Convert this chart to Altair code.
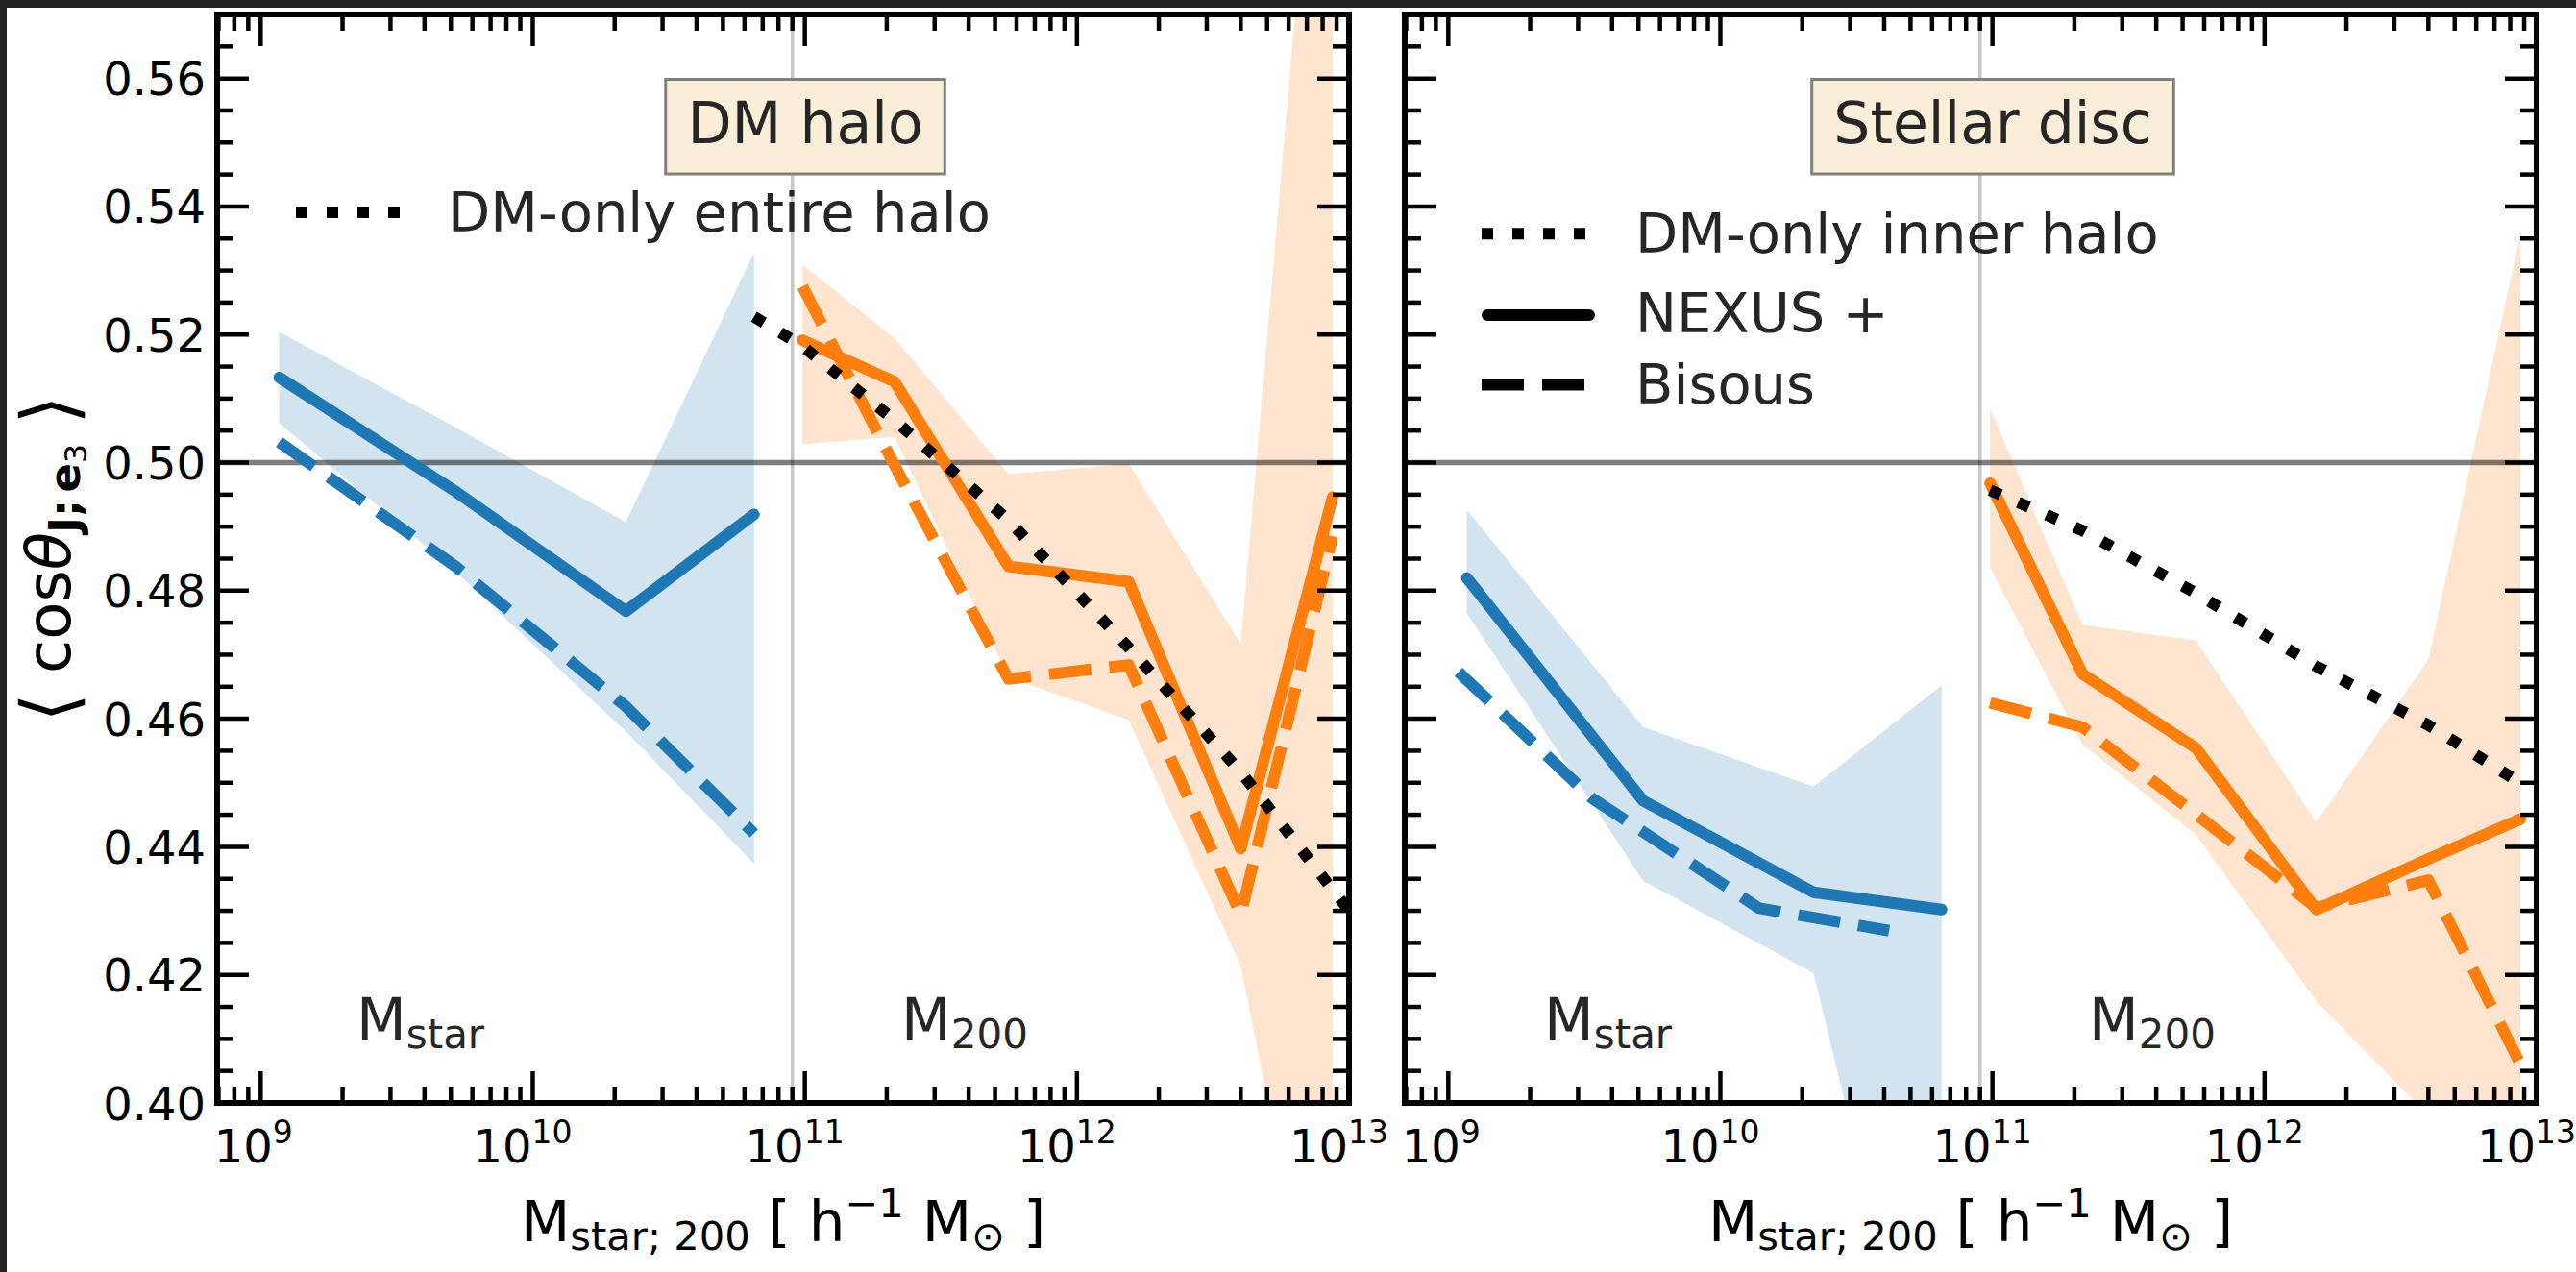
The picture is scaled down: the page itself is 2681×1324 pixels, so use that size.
import altair as alt
import pandas as pd

# ---------------------------------------------------------------- data
# bin centres, h^-1 Msun
mstar_bins = [1.17e9, 5.2e9, 2.2e10, 6.5e10]
mstar_bins_disc_bisous = [1.09e9, 3.37e9, 1.39e10, 4.17e10]
m200_bins = [9.8e10, 2.14e11, 5.6e11, 1.55e12, 4.0e12, 8.7e12]
dmonly_entire_bins = [6.5e10, 9.8e10, 2.14e11, 5.6e11, 1.55e12, 4.0e12, 8.7e12, 1.15e13]
dmonly_inner_bins = [9.8e10, 2.14e11, 5.6e11, 1.55e12, 4.0e12, 8.7e12]

# DM halo spin
halo_nexus_mstar = [0.5133, 0.4955, 0.4768, 0.4919]
halo_nexus_mstar_lo = [0.5062, 0.4830, 0.4580, 0.4374]
halo_nexus_mstar_hi = [0.5204, 0.5055, 0.4907, 0.5328]
halo_bisous_mstar = [0.5032, 0.4838, 0.4619, 0.4421]
halo_nexus_m200 = [0.5191, 0.5126, 0.4838, 0.4814, 0.4397, 0.4946]
halo_nexus_m200_lo = [0.5029, 0.5040, 0.4665, 0.4598, 0.4214, 0.3500]
halo_nexus_m200_hi = [0.5309, 0.5194, 0.4982, 0.4998, 0.4717, 0.6380]
halo_bisous_m200 = [0.5275, 0.4995, 0.4662, 0.4684, 0.4294, 0.4885]
halo_dmonly_entire = [0.5228, 0.5182, 0.5066, 0.4910, 0.4711, 0.4517, 0.4333, 0.4268]

# stellar disc spin
disc_nexus_mstar = [0.4820, 0.4472, 0.4329, 0.4302]
disc_nexus_mstar_lo = [0.4765, 0.4347, 0.4203, 0.3380]
disc_nexus_mstar_hi = [0.4926, 0.4587, 0.4494, 0.4652]
disc_bisous_mstar = [0.4673, 0.4476, 0.4304, 0.4269]
disc_nexus_m200 = [0.4968, 0.4670, 0.4554, 0.4302, 0.4381, 0.4443]
disc_nexus_m200_lo = [0.4836, 0.4560, 0.4419, 0.4159, 0.3980, 0.3600]
disc_nexus_m200_hi = [0.5085, 0.4747, 0.4722, 0.4438, 0.4692, 0.5356]
disc_bisous_m200 = [0.4625, 0.4587, 0.4451, 0.4305, 0.4348, 0.4061]
disc_dmonly_inner = [0.4957, 0.4894, 0.4796, 0.4682, 0.4590, 0.4500]

# axis ticks
y_major = [0.40, 0.42, 0.44, 0.46, 0.48, 0.50, 0.52, 0.54, 0.56]
y_labels = ["0.40", "0.42", "0.44", "0.46", "0.48", "0.50", "0.52", "0.54", "0.56"]
y_minor = [round(0.40 + 0.005 * i, 3) for i in range(1, 34) if i % 4]
x_major = [1e9, 1e10, 1e11, 1e12, 1e13]
x_exponents = ["9", "10", "11", "12", "13"]
x_minor = [k * 10.0 ** n for n in range(8, 13) for k in range(2, 10) if k * 10.0 ** n > 6.95e8]
split_mass = 9e10

# ---------------------------------------------------------------- style
FONT = "DejaVu Sans"
INK = "#262626"
BLUE, ORANGE = "#1f77b4", "#ff7f0e"
W, H = 1178, 1133
LW = 12
DASH = [44, 19]
DOT = [12, 20]
LEGEND_SIZE = 57.5
XS = alt.Scale(type="log", domain=[10 ** 8.84, 1e13])
YS = alt.Scale(domain=[0.40, 0.57])

ADV = {" ": .318, ";": .337, "[": .390, "]": .390, "-": .361, "+": .838,
       "\u2212": .838, "\u2299": .838, "\u27e8": .390, "\u27e9": .390, "\u03b8": .602,
       "A": .684, "B": .686, "D": .770, "E": .632, "H": .752, "J": .295, "M": .863,
       "N": .748, "S": .635, "U": .732, "X": .685,
       "a": .613, "c": .550, "d": .635, "e": .615, "h": .634, "i": .278, "l": .278,
       "n": .634, "o": .612, "r": .411, "s": .521, "t": .392, "u": .634, "y": .592}
ADV_BOLD = {"J": .372, ";": .400, "e": .678, " ": .348}


def adv(s, size, bold=False):
    tot = 0.0
    for c in s:
        if c.isdigit():
            tot += .636
        elif bold and c in ADV_BOLD:
            tot += ADV_BOLD[c]
        else:
            tot += ADV.get(c, .6)
    return tot * size


def one():
    return pd.DataFrame({"k": [0]})


def text_mark(s, x, y, size, color=INK, align="left", angle=0, weight="normal", style="normal"):
    props = dict(font=FONT, fontSize=size, color=color, align=align,
                 baseline="alphabetic", fontWeight=weight, fontStyle=style)
    if angle:
        props["angle"] = angle
    return alt.Chart(one()).mark_text(**props).encode(
        x=alt.value(x), y=alt.value(y), text=alt.value(s))


def rich(runs, x, y, angle=0, color="black"):
    """Lay out a mathtext-like string (runs of text with size/shift) centred on (x, y)."""
    def width(item):
        if item[0] == "gap":
            return item[1]
        t, size, shift, bold, italic = item
        return adv(t, size, bold)

    total = sum(width(i) for i in runs)
    pos = x - total / 2 if angle == 0 else y + total / 2
    out = []
    for item in runs:
        a = width(item)
        if item[0] != "gap":
            t, size, shift, bold, italic = item
            if angle == 0:
                px, py = pos, y + shift
            else:
                px, py = x + shift, pos
            out.append(text_mark(t, px, py, size, color, "left", angle,
                                 "bold" if bold else "normal",
                                 "italic" if italic else "normal"))
        pos = pos + a if angle == 0 else pos - a
    return out


def band(x, lo, hi, color):
    df = pd.DataFrame({"x": x, "lo": lo, "hi": hi})
    return alt.Chart(df).mark_area(color=color, opacity=0.2, clip=True).encode(
        x=alt.X("x:Q", scale=XS, axis=None),
        y=alt.Y("lo:Q", scale=YS, axis=None),
        y2="hi:Q")


def curve(x, y, color, dash=None):
    props = dict(color=color, strokeWidth=LW, clip=True, strokeJoin="round",
                 strokeCap="butt" if dash else "round")
    if dash:
        props["strokeDash"] = dash
    return alt.Chart(pd.DataFrame({"x": x, "y": y})).mark_line(**props).encode(
        x=alt.X("x:Q", scale=XS, axis=None),
        y=alt.Y("y:Q", scale=YS, axis=None))


def reference_lines():
    h = alt.Chart(pd.DataFrame({"y": [0.5]})).mark_rule(
        color="black", opacity=0.5, strokeWidth=5.5).encode(
        y=alt.Y("y:Q", scale=YS, axis=None))
    v = alt.Chart(pd.DataFrame({"x": [split_mass]})).mark_rule(
        color="#c8c8c8", strokeWidth=3.5).encode(
        x=alt.X("x:Q", scale=XS, axis=None))
    return [v, h]


def ticks():
    out = []
    for vals, ln in ((y_major, 33), (y_minor, 17)):
        d = pd.DataFrame({"v": vals})
        for x0, x1 in ((0, ln), (W, W - ln)):
            out.append(alt.Chart(d).mark_rule(color="black", strokeWidth=4.5).encode(
                y=alt.Y("v:Q", scale=YS, axis=None), x=alt.value(x0), x2=alt.value(x1)))
    for vals, ln in ((x_major, 33), (x_minor, 17)):
        d = pd.DataFrame({"v": vals})
        for y0, y1 in ((H, H - ln), (0, ln)):
            out.append(alt.Chart(d).mark_rule(color="black", strokeWidth=4.5).encode(
                x=alt.X("v:Q", scale=XS, axis=None), y=alt.value(y0), y2=alt.value(y1)))
    frame = alt.Chart(one()).mark_rect(fill="white", fillOpacity=0, stroke="black",
                                       strokeWidth=6).encode(
        x=alt.value(0), x2=alt.value(W), y=alt.value(0), y2=alt.value(H))
    out.append(frame)
    return out


def x_tick_labels():
    df = pd.DataFrame({"v": x_major, "e": x_exponents})
    out = []
    for ndig, dx in ((1, 12.5), (2, -1)):
        d = df[df["e"].str.len() == ndig]
        out.append(alt.Chart(d).mark_text(font=FONT, fontSize=48, color="black", align="right",
                                          baseline="alphabetic", dx=dx).encode(
            x=alt.X("v:Q", scale=XS, axis=None), y=alt.value(1195), text=alt.value("10")))
        out.append(alt.Chart(d).mark_text(font=FONT, fontSize=33, color="black", align="left",
                                          baseline="alphabetic", dx=dx).encode(
            x=alt.X("v:Q", scale=XS, axis=None), y=alt.value(1175), text="e:N"))
    return out


def y_tick_labels():
    df = pd.DataFrame({"v": y_major, "lab": y_labels})
    return [alt.Chart(df).mark_text(font=FONT, fontSize=48, color="black", align="right",
                                    baseline="alphabetic", dy=17.5).encode(
        y=alt.Y("v:Q", scale=YS, axis=None), x=alt.value(-12), text="lab:N")]


def x_title():
    F = 59.5
    s = 0.7 * F
    runs = [("M", F, 0, False, False), ("star; 200", s, 0.16 * F, False, False),
            ("gap", 0.318 * F), ("[", F, 0, False, False), ("gap", 0.318 * F),
            ("h", F, 0, False, False), ("\u22121", s, -0.42 * F, False, False),
            ("gap", 0.318 * F), ("M", F, 0, False, False), ("\u2299", s, 0.16 * F, False, False),
            ("gap", 0.318 * F), ("]", F, 0, False, False)]
    return rich(runs, W / 2, 1276.7)


def y_title():
    F = 64
    B = 78
    s = 0.7 * F
    ss = 0.7 * s
    runs = [("\u27e8", B, 5, False, False), ("gap", 0.318 * F), ("cos", F, 0, False, False),
            ("\u03b8", F, 0, False, True), ("J;", s, 0.16 * F, True, False),
            ("gap", 0.17 * s), ("e", s, 0.16 * F, True, False), ("3", ss, 0.27 * F, False, False),
            ("gap", 0.318 * F), ("\u27e9", B, 5, False, False)]
    return rich(runs, -153, H / 2, angle=270)


def mass_labels():
    out = []
    for x0, sub in ((145, "star"), (712, "200")):
        out.append(text_mark("M", x0, 1066.7, 60))
        out.append(text_mark(sub, x0 + 0.863 * 60, 1075.7, 42))
    return out


def title_box(label):
    w = adv(label, 60) + 2 * 22.6
    cx = 612
    box = alt.Chart(one()).mark_rect(fill="#faeed9", stroke="#808080", strokeWidth=3).encode(
        x=alt.value(cx - w / 2), x2=alt.value(cx + w / 2), y=alt.value(67.6), y2=alt.value(166))
    return [box, text_mark(label, cx, 133.7, 60, align="center")]


def legend_row(dash, label, ys, yt, x0=80, x1=194):
    props = dict(color="black", strokeWidth=LW)
    if dash:
        props.update(strokeDash=dash, strokeCap="butt")
    else:
        props.update(strokeCap="round")
        x0, x1 = x0 + 6, x1 - 2
    sample = alt.Chart(one()).mark_rule(**props).encode(
        x=alt.value(x0), x2=alt.value(x1), y=alt.value(ys))
    return [sample, text_mark(label, 240, yt, LEGEND_SIZE)]


def page_edges():
    dark = "#222222"
    left = alt.Chart(one()).mark_rect(color=dark).encode(
        x=alt.value(-226), x2=alt.value(-219), y=alt.value(-15), y2=alt.value(1309))
    top = alt.Chart(one()).mark_rect(color=dark).encode(
        x=alt.value(-226), x2=alt.value(2455), y=alt.value(-15), y2=alt.value(-7))
    return [left, top]


# ---------------------------------------------------------------- DM halo panel
halo_layers = (
    [band(mstar_bins, halo_nexus_mstar_lo, halo_nexus_mstar_hi, BLUE),
     band(m200_bins, halo_nexus_m200_lo, halo_nexus_m200_hi, ORANGE)]
    + reference_lines()
    + [curve(mstar_bins, halo_nexus_mstar, BLUE),
       curve(mstar_bins, halo_bisous_mstar, BLUE, DASH),
       curve(m200_bins, halo_nexus_m200, ORANGE),
       curve(m200_bins, halo_bisous_m200, ORANGE, DASH),
       curve(dmonly_entire_bins, halo_dmonly_entire, "black", DOT)]
    + ticks()
    + title_box("DM halo")
    + legend_row(DOT, "DM-only entire halo", 206, 226, 82, 195)
    + mass_labels()
    + x_tick_labels() + y_tick_labels() + x_title() + y_title()
    + page_edges()
)
halo_panel = alt.layer(*halo_layers).properties(width=W, height=H)

# ---------------------------------------------------------------- stellar disc panel
disc_layers = (
    [band(mstar_bins, disc_nexus_mstar_lo, disc_nexus_mstar_hi, BLUE),
     band(m200_bins, disc_nexus_m200_lo, disc_nexus_m200_hi, ORANGE)]
    + reference_lines()
    + [curve(mstar_bins, disc_nexus_mstar, BLUE),
       curve(mstar_bins_disc_bisous, disc_bisous_mstar, BLUE, DASH),
       curve(m200_bins, disc_nexus_m200, ORANGE),
       curve(m200_bins, disc_bisous_m200, ORANGE, DASH),
       curve(dmonly_inner_bins, disc_dmonly_inner, "black", DOT)]
    + ticks()
    + title_box("Stellar disc")
    + legend_row(DOT, "DM-only inner halo", 228.3, 248.4)
    + legend_row(None, "NEXUS +", 313, 331)
    + legend_row(DASH, "Bisous", 385.4, 404.6)
    + mass_labels()
    + x_tick_labels() + x_title()
)
disc_panel = alt.layer(*disc_layers).properties(width=W, height=H)

chart = alt.hconcat(halo_panel, disc_panel, spacing=58, bounds="flush").properties(
    autosize=alt.AutoSizeParams(type="none"),
    padding={"left": 226, "top": 15, "right": 2681 - 226, "bottom": 1324 - 15},
    background="white",
).configure_view(stroke="transparent")

chart.save("out.html", embed_options={"renderer": "svg", "actions": False})
